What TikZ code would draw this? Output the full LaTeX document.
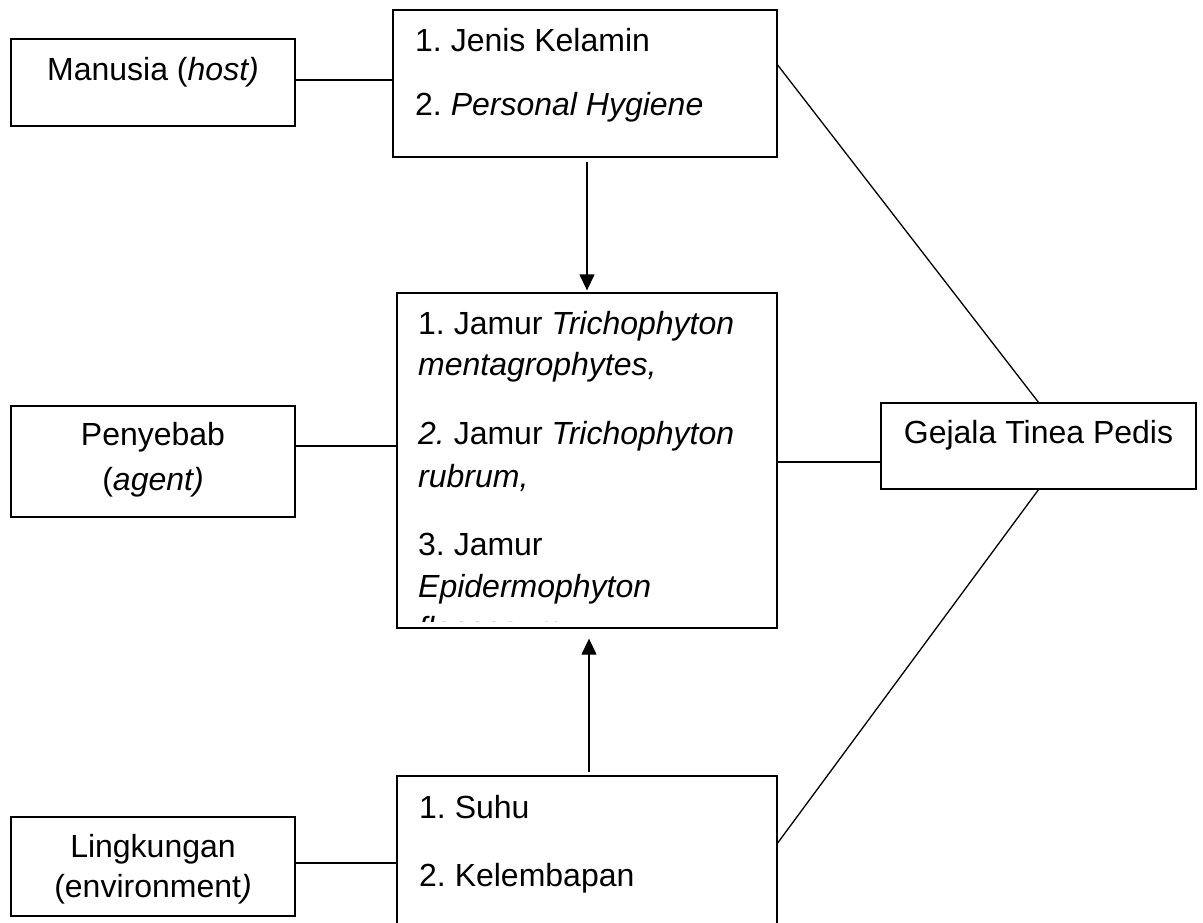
\documentclass[tikz,border=0pt]{standalone}
\usepackage{fontspec}
\setmainfont{Liberation Sans}
\usetikzlibrary{arrows.meta}
\frenchspacing
\tikzset{
  box/.style={draw, line width=1.3pt, inner sep=0pt},
  txt/.style={inner sep=0pt, anchor=base west, font=\fontsize{32}{36}\selectfont},
  ctxt/.style={inner sep=0pt, anchor=base, font=\fontsize{32}{36}\selectfont},
  conn/.style={line width=1.3pt},
  arr/.style={line width=1.3pt, -{Triangle[length=16pt,width=15pt]}}
}
\begin{document}
\begin{tikzpicture}[x=1pt,y=-1pt]
\clip (0,0) rectangle (1203,922);
\fill[white] (0,0) rectangle (1203,922);
% boxes
\node[box, minimum width=284pt, minimum height=87pt] (man) at (153,82.5) {};
\node[box, minimum width=384pt, minimum height=147pt] (jk) at (585,83.5) {};
\node[box, minimum width=380pt, minimum height=335pt] (jam) at (587,460.5) {};
\node[box, minimum width=284pt, minimum height=111pt] (pen) at (153,461.5) {};
\node[box, minimum width=315pt, minimum height=86pt] (gej) at (1038.5,446) {};
\node[box, minimum width=380pt, minimum height=200pt] (env) at (587,876) {};
\node[box, minimum width=284pt, minimum height=99pt] (lin) at (153,866.5) {};
% texts
\node[ctxt] (tman) at (153,80) {Manusia (\textit{host)}};
\node[txt] (tjk1) at (415,51) {1. Jenis Kelamin};
\node[txt] (tjk2) at (415,115) {2. \textit{Personal Hygiene}};
\begin{scope}
\clip (397,293) rectangle (777,621);
\node[txt] (tj1) at (418,334) {1. Jamur \textit{Trichophyton}};
\node[txt] (tj2) at (418,375) {\textit{mentagrophytes,}};
\node[txt] (tj3) at (418,444) {\textit{2.} Jamur \textit{Trichophyton}};
\node[txt] (tj4) at (418,487) {\textit{rubrum,}};
\node[txt] (tj5) at (418,555) {3. Jamur};
\node[txt] (tj6) at (418,597) {\textit{Epidermophyton}};
\node[txt] (tj7) at (418,639) {\textit{floccosum}};
\end{scope}
\node[ctxt] (tpen1) at (153,445) {Penyebab};
\node[ctxt] (tpen2) at (153,490) {(\textit{agent)}};
\node[ctxt] (tgej) at (1038.5,443) {Gejala Tinea Pedis};
\node[txt] (tenv1) at (419,818) {1. Suhu};
\node[txt] (tenv2) at (419,886) {2. Kelembapan};
\node[ctxt] (tlin1) at (153,857) {Lingkungan};
\node[ctxt] (tlin2) at (153,897) {(environment\textit{)}};
% connectors
\draw[conn] ([yshift=2.5pt]man.east) -- ([yshift=2.5pt]man.east -| jk.west);
\draw[conn] ([yshift=15.5pt]pen.east) -- ([yshift=15.5pt]pen.east -| jam.west);
\draw[conn] ([yshift=-16pt]gej.west) -- ([yshift=-16pt]gej.west -| jam.east);
\draw[conn] ([yshift=3.5pt]lin.east) -- ([yshift=3.5pt]lin.east -| env.west);
\draw[conn] ([yshift=18.5pt]jk.east) -- (gej.north);
\draw[conn] ([yshift=33pt]env.east) -- (gej.south);
\draw[arr] ([yshift=-4pt]jk.south -| jam.north) -- ([yshift=2pt]jam.north);
\draw[arr] ([yshift=3pt,xshift=2pt]env.north) -- ([yshift=-10pt,xshift=2pt]jam.south);
\end{tikzpicture}
\end{document}
